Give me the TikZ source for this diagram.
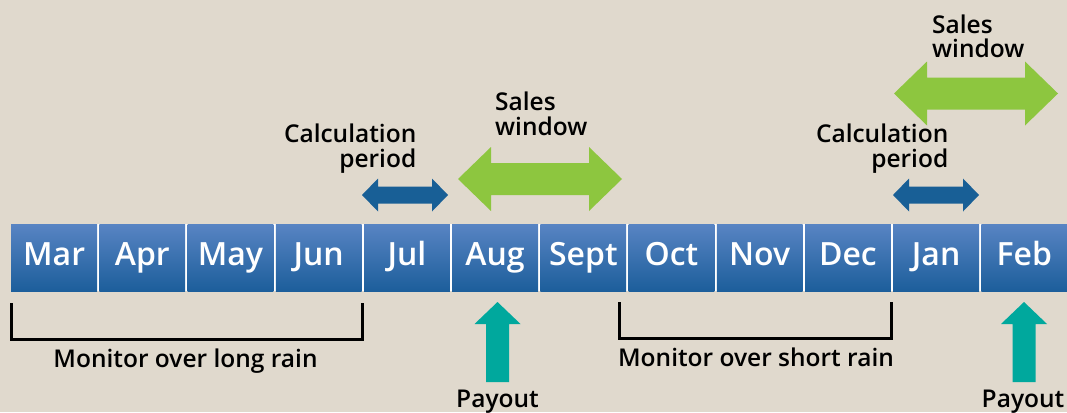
\documentclass[tikz,border=0pt]{standalone}
\usepackage{fontspec}
\setmainfont{Open Sans}[BoldFont={Open Sans Semibold}]
\definecolor{bgc}{RGB}{224,217,205}
\definecolor{boxtop}{RGB}{88,132,195}
\definecolor{boxbot}{RGB}{28,94,155}
\definecolor{calcblue}{RGB}{24,95,150}
\definecolor{salesgreen}{RGB}{141,198,63}
\definecolor{payteal}{RGB}{0,168,157}
\tikzset{
  monthbox/.style={anchor=north west, minimum width=85.8, minimum height=67, inner sep=0,
    top color=boxtop, bottom color=boxbot, draw=none, text=white,
    text height=23, text depth=8, font=\fontsize{32}{32}\selectfont\bfseries},
  lbl/.style={inner sep=0, font=\fontsize{24.5}{24.5}\selectfont\bfseries, text=black},
  bracketline/.style={draw=black, line width=3, line cap=butt, line join=miter},
}
\newcommand{\dblarr}[7]{% x1 x2 yc shafthalf headhalf headlen color
  \fill[#7] (#1,#3) -- (#1+#6,#3-#5) -- (#1+#6,#3-#4) -- (#2-#6,#3-#4) -- (#2-#6,#3-#5)
   -- (#2,#3) -- (#2-#6,#3+#5) -- (#2-#6,#3+#4) -- (#1+#6,#3+#4) -- (#1+#6,#3+#5) -- cycle;}
\newcommand{\uparr}[6]{% xc tipy headbase headhalf shafthalf bottom
  \fill[payteal] (#1,#2) -- (#1+#4,#3) -- (#1+#5,#3) -- (#1+#5,#6) -- (#1-#5,#6)
   -- (#1-#5,#3) -- (#1-#4,#3) -- cycle;}
\begin{document}
\begin{tikzpicture}[x=1pt,y=-1pt]
\fill[bgc] (0,0) rectangle (1067,412);
\useasboundingbox (0,0) rectangle (1067,412);
% white separator band
\fill[white] (11,224) rectangle (1067,291);
% months
\foreach \m [count=\i from 0] in {Mar,Apr,May,Jun,Jul,Aug,Sept,Oct,Nov,Dec,Jan,Feb}{
  \node[monthbox] (m\i) at ({11+88.2*\i},224) {\m};
}
% calculation periods
\dblarr{362}{448}{195}{8.5}{16.5}{16}{calcblue}
\dblarr{893}{979}{195}{8.5}{16.5}{16}{calcblue}
% sales windows
\dblarr{458}{622}{179}{16}{32}{33}{salesgreen}
\dblarr{894}{1058}{93.5}{16}{32}{33}{salesgreen}
% labels (base anchor = last line)
\node[lbl, align=right, anchor=base east] (calc1) at (416.5,167) {Calculation\\period};
\node[lbl, align=right, anchor=base east] (calc2) at (948.5,167) {Calculation\\period};
\node[lbl, align=left, anchor=base west] (sales1) at (495,135) {Sales\\window};
\node[lbl, align=left, anchor=base west] (sales2) at (932,58) {Sales\\window};
% payout arrows
\uparr{497.5}{302}{324}{23}{11.5}{382}
\uparr{1024}{302}{324}{23}{11.5}{382}
\node[lbl, anchor=base] (pay1) at (497.5,407) {Payout};
\node[lbl, anchor=base] (pay2) at (1023,407) {Payout};
% brackets
\draw[bracketline] (11,303) -- (11,339) -- (362.5,339) -- (362.5,303);
\draw[bracketline] (619,302) -- (619,338) -- (891.5,338) -- (891.5,302);
\node[lbl, anchor=base] (mon1) at (185.5,367) {Monitor over long rain};
\node[lbl, anchor=base] (mon2) at (756,366) {Monitor over short rain};
\end{tikzpicture}
\end{document}
